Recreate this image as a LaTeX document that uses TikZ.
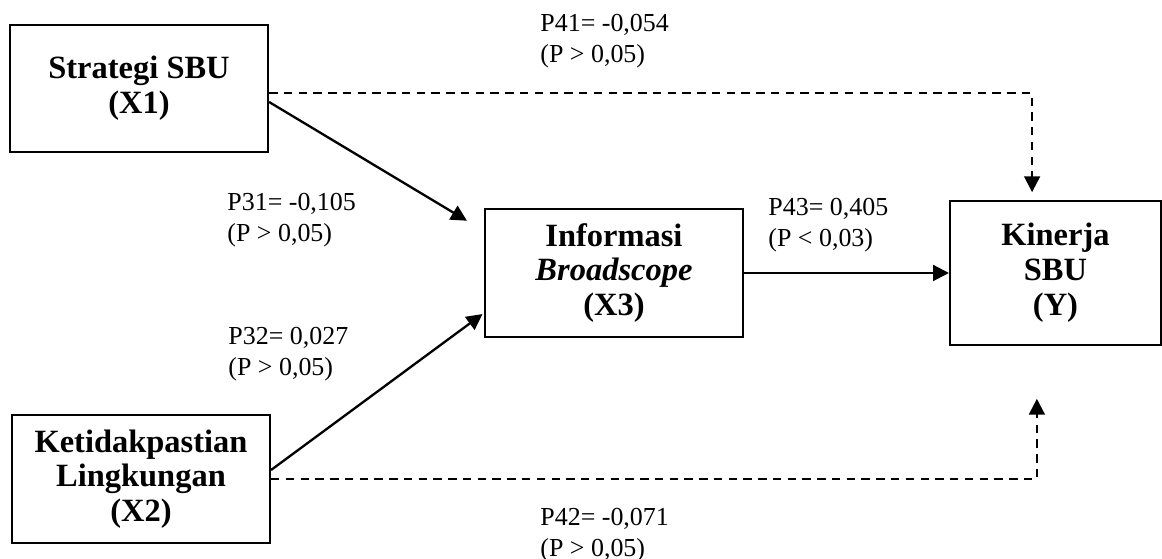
\documentclass[tikz,border=0pt]{standalone}
\usepackage{fontspec}
\setmainfont{Liberation Serif}
\usetikzlibrary{arrows.meta}
\tikzset{
  varbox/.style={draw, line width=1pt, align=center, inner sep=0pt,
    font=\fontsize{15.4}{16.5}\selectfont\bfseries},
  coef/.style={anchor=north west, align=left, inner sep=0pt,
    font=\fontsize{12.3}{14.8}\selectfont},
  path/.style={line width=1.1pt, -{Triangle[length=7.5pt,width=7.5pt]}},
  dpath/.style={path, dash pattern=on 4pt off 3pt}
}
\begin{document}
\begin{tikzpicture}
\useasboundingbox (0,0) rectangle (19.367,9.317);
\node[varbox, minimum width=4.3cm, minimum height=2.117cm] (X1) at (2.317,7.842) {Strategi SBU\\(X1)};
\node[varbox, minimum width=4.3cm, minimum height=2.133cm] (X2) at (2.35,1.333) {Ketidakpastian\\Lingkungan\\(X2)};
\node[varbox, minimum width=4.3cm, minimum height=2.133cm] (X3) at (10.233,4.767) {Informasi\\\textit{Broadscope}\\(X3)};
\node[varbox, minimum width=3.517cm, minimum height=2.4cm] (Y) at (17.592,4.767) {Kinerja\\SBU\\(Y)};
% direct paths
\draw[path, shorten >=0.33cm] ([yshift=-0.225cm]X1.east) -- ([yshift=-0.383cm]X3.north west);
\draw[path, shorten >=0.03cm] ([yshift=0.15cm]X2.east) -- ([yshift=0.417cm]X3.south west);
\draw[path] (X3) -- (Y);
% indirect (not significant)
\draw[dpath] ([yshift=-0.075cm]X1.east) -| ([xshift=-0.39cm,yshift=0.13cm]Y.north);
\draw[dpath] (X2.east) -| ([xshift=-0.31cm,yshift=-0.88cm]Y.south);
% coefficients
\node[coef] (p41) at (9.0,9.09) {P41= -0,054\\(P > 0,05)};
\node[coef] (p31) at (3.783,6.108) {P31= -0,105\\(P > 0,05)};
\node[coef] (p32) at (3.8,3.875) {P32= 0,027\\(P > 0,05)};
\node[coef] (p43) at (12.8,6.025) {P43= 0,405\\(P < 0,03)};
\node[coef] (p42) at (9.0,0.86) {P42= -0,071\\(P > 0,05)};
\end{tikzpicture}
\end{document}
